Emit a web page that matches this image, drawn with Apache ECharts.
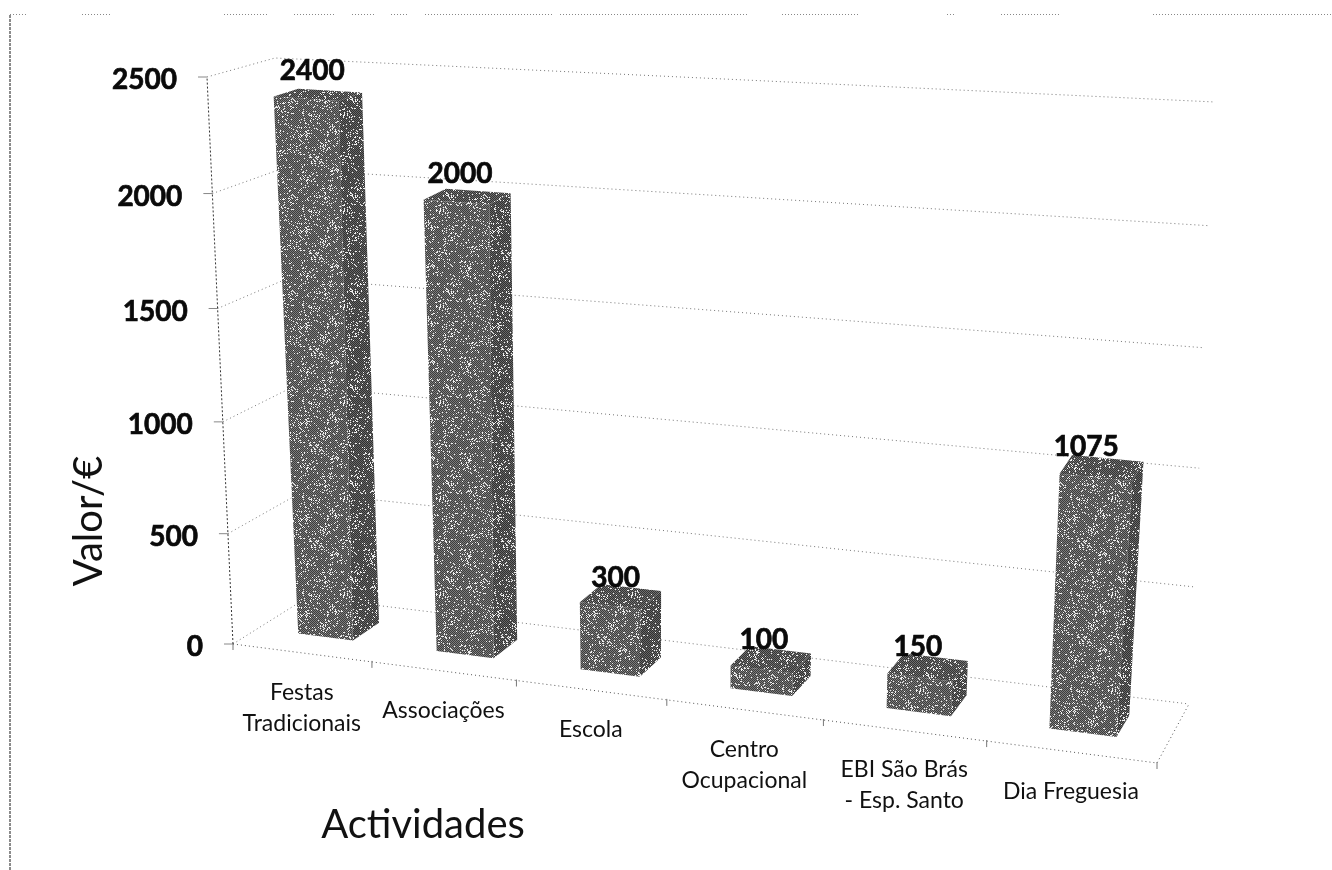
<!DOCTYPE html>
<html><head><meta charset="utf-8">
<style>html,body{margin:0;padding:0;background:#fff}#c{width:1332px;height:870px}</style>
<script src="https://cdn.jsdelivr.net/npm/echarts@6/dist/echarts.min.js"></script>
</head><body><div id="c"></div>
<script>
const categories = ['Festas\nTradicionais','Associações','Escola','Centro\nOcupacional','EBI São Brás\n- Esp. Santo','Dia Freguesia'];
const values = [2400,2000,300,100,150,1075];
const yTicks = [0,500,1000,1500,2000,2500];
const xAxisTitle = 'Actividades';
const yAxisTitle = 'Valor/€';

const FONT = 'Lato, "Open Sans", sans-serif';
// scene corners of the perspective box: [floor, top] x [front, back] x [left, right]
const FL=[233,644], FR=[1157,763], BL=[308,597], BR=[1189,704];
const TFL=[207,77], TFR=[1192,147], TBL=[275,58], TBR=[1215,102];
const KU=1.13, KH=1.035, V0=0.33, V1=0.70, BAR=0.4, FLARE=0.008;

const mix=(a,b,t)=>[a[0]+(b[0]-a[0])*t,a[1]+(b[1]-a[1])*t];
const persp=(u,k)=>u/(u+k*(1-u));
function P(u,v,h){
  const s=persp(u,KU), t=persp(h,KH);
  const floor=mix(mix(FL,FR,s),mix(BL,BR,s),v);
  const top=mix(mix(TFL,TFR,s),mix(TBL,TBR,s),v);
  return mix(floor,top,t);
}
// normalised position from the chart's own axes
function norm(api,params,i,val){
  const c=api.coord([i,val]), g=params.coordSys;
  return {u:(c[0]-g.x)/g.width,h:(g.y+g.height-c[1])/g.height,bw:api.size([1,0])[0]/g.width};
}
function stipple(dark,mid){
  const n=96,cv=document.createElement('canvas');cv.width=cv.height=n;
  const x=cv.getContext('2d');
  for(let j=0;j<n;j++)for(let i=0;i<n;i++){
    const w=Math.sin(i*0.21+j*0.13)+Math.sin(j*0.29-i*0.17);
    const f=Math.sin(i*12.9898+j*78.233)*43758.5453; const r=f-Math.floor(f);
    let col=((i+j)%2===0)?dark:mid;
    if(r>(w>0.6?0.80:0.93))col='#f2f2f2';
    x.fillStyle=col;x.fillRect(i,j,1,1);
  }
  return {image:cv,repeat:'repeat'};
}
const frontFill=stipple('#3c3c3c','#7c7c7c');
const sideFill=stipple('#303030','#666666');
const topFill=stipple('#343434','#6e6e6e');
const DOT={stroke:'#777',lineWidth:1,lineDash:[1,3],fill:null};
const line=(pts,st)=>({type:'polyline',shape:{points:pts},style:Object.assign({},DOT,st||{}),silent:true});
const BOLD={fontFamily:FONT,fontWeight:'bold',fontSize:28,fill:'#0a0a0a',stroke:'#0a0a0a',lineWidth:0.7};

const wallSeries={type:'custom',coordinateSystem:'cartesian2d',silent:true,z:2,
  data:yTicks.map(t=>[0,t]),
  renderItem(params,api){
    const n=norm(api,params,0,api.value(1));
    const a=P(0,0,n.h),b=P(0,1,n.h),c=P(1,1,n.h);
    return {type:'group',children:[
      line([a,b,c]),
      line([[a[0]-9,a[1]],[a[0],a[1]]],{lineDash:null,stroke:'#888'}),
      {type:'text',silent:true,style:Object.assign({text:String(api.value(1)),x:a[0]-30,y:a[1]+3,align:'right',verticalAlign:'middle'},BOLD)}
    ]};
  }};
const frameSeries={type:'custom',coordinateSystem:'cartesian2d',silent:true,z:3,
  data:[[0,0]],
  renderItem(params,api){
    const kids=[
      line([P(0,0,0),P(1,0,0),P(1,1,0)],{stroke:'#555'}),
      line([P(0,0,0),P(0,0,1)],{stroke:'#333',lineDash:[2,2]})
    ];
    for(let k=0;k<=categories.length;k++){
      const p=P(k/categories.length,0,0);
      kids.push(line([[p[0],p[1]-1],[p[0],p[1]+6]],{lineDash:null,stroke:'#777'}));
    }
    return {type:'group',children:kids};
  }};
const barSeries={type:'custom',coordinateSystem:'cartesian2d',silent:true,z:5,
  data:values.map((v,i)=>[i,v]),
  renderItem(params,api){
    const i=api.value(0),v=api.value(1);
    const n=norm(api,params,i,v);
    const a=n.u-n.bw*BAR/2,b=n.u+n.bw*BAR/2,h=n.h,bt=b+FLARE*h;
    const poly=(pts,fill)=>({type:'polygon',shape:{points:pts},style:{fill:fill},silent:true});
    const peak=P(a,V1,h);
    const fp=P((a+b)/2,0,0);
    return {type:'group',children:[
      poly([P(a,V0,0),P(b,V0,0),P(bt,V0,h),P(a,V0,h)],frontFill),
      poly([P(b,V0,0),P(b,V1,0),P(bt,V1,h),P(bt,V0,h)],sideFill),
      poly([P(a,V0,h),P(bt,V0,h),P(bt,V1,h),P(a,V1,h)],topFill),
      {type:'text',silent:true,style:Object.assign({text:String(v),x:peak[0]+14,y:peak[1]-6-13*h*h,align:'center',verticalAlign:'middle'},BOLD)},
      {type:'text',silent:true,style:{text:categories[i],x:fp[0],y:fp[1]+24,align:'center',verticalAlign:'top',
        fontFamily:FONT,fontSize:23,lineHeight:31,fill:'#111'}}
    ]};
  }};

const topScan=[[10,27],[82,111],[224,267],[294,335],[352,375],[391,407],[425,553],[560,747],[782,858],[947,954],[1001,1060],[1153,1332]];
const graphics=[
  {type:'line',silent:true,shape:{x1:10,y1:15,x2:10,y2:870},style:{stroke:'#666',lineWidth:1.5,lineDash:[3,1]}},
  ...topScan.map(s=>({type:'line',silent:true,shape:{x1:s[0],y1:14.5,x2:s[1],y2:14.5},style:{stroke:'#888',lineWidth:1,lineDash:[1,2]}})),
  {type:'text',silent:true,x:423,y:825,style:{text:xAxisTitle,align:'center',verticalAlign:'middle',fontFamily:FONT,fontSize:40,fill:'#111'}},
  {type:'text',silent:true,x:89,y:521,rotation:Math.PI/2,style:{text:yAxisTitle,align:'center',verticalAlign:'middle',fontFamily:FONT,fontSize:40,fill:'#111'}}
];

const chart=echarts.init(document.getElementById('c'),null,{renderer:'canvas'});
chart.setOption({
  animation:false,backgroundColor:'#fff',
  grid:{left:233,top:77,width:924,height:567},
  xAxis:{type:'category',data:categories,show:false},
  yAxis:{type:'value',min:0,max:2500,interval:500,show:false},
  graphic:graphics,
  series:[wallSeries,frameSeries,barSeries]
});
</script></body></html>
